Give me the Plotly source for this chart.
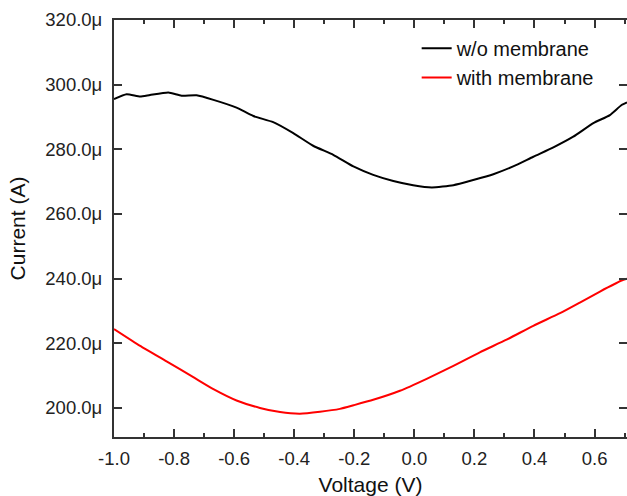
import plotly.graph_objects as go

# I-V sweep, current in microamps
voltage_wo = [-1.0, -0.958, -0.913, -0.88, -0.819, -0.775, -0.725, -0.669, -0.592, -0.536,
              -0.47, -0.403, -0.337, -0.27, -0.203, -0.137, -0.07, -0.004, 0.058, 0.13,
              0.196, 0.263, 0.329, 0.396, 0.463, 0.529, 0.596, 0.651, 0.69, 0.708]
current_wo = [295.5, 297.0, 296.3, 296.8, 297.6, 296.6, 296.7, 295.3, 292.9, 290.3,
              288.4, 285.0, 281.1, 278.3, 274.7, 272.1, 270.2, 268.9, 268.2, 268.9,
              270.5, 272.3, 274.7, 277.7, 280.6, 283.9, 288.1, 290.6, 293.7, 294.5]

voltage_with = [-1.0, -0.913, -0.825, -0.736, -0.669, -0.592, -0.514, -0.447, -0.381, -0.314,
                -0.248, -0.203, -0.137, -0.048, 0.041, 0.13, 0.218, 0.307, 0.396, 0.485,
                0.551, 0.618, 0.69, 0.708]
current_with = [224.4, 219.2, 214.4, 209.5, 205.8, 202.3, 200.0, 198.7, 198.2, 198.8,
                199.7, 200.8, 202.5, 205.3, 209.0, 213.0, 217.2, 221.1, 225.4, 229.3,
                232.6, 236.0, 239.4, 240.0]

x_ticks = [-1.0, -0.8, -0.6, -0.4, -0.2, 0.0, 0.2, 0.4, 0.6]
x_labels = ["-1.0", "-0.8", "-0.6", "-0.4", "-0.2", "0.0", "0.2", "0.4", "0.6"]
y_ticks = [200, 220, 240, 260, 280, 300, 320]
y_labels = ["200.0μ", "220.0μ", "240.0μ", "260.0μ", "280.0μ", "300.0μ", "320.0μ"]
x_range = [-1.0, 0.708]
y_range = [191.0, 320.0]

FONT = "Liberation Sans, Arial, sans-serif"
AXIS_COLOR = "#333333"

fig = go.Figure()
fig.add_trace(go.Scatter(x=voltage_wo, y=current_wo, mode="lines", name="w/o membrane",
                         line=dict(color="#000000", width=2, shape="spline", smoothing=0.5),
                         legend="legend"))
fig.add_trace(go.Scatter(x=voltage_with, y=current_with, mode="lines", name="with membrane",
                         line=dict(color="#ff0000", width=2, shape="spline", smoothing=0.5),
                         legend="legend2"))

fig.update_xaxes(
    showline=True, linecolor=AXIS_COLOR, linewidth=2, mirror="allticks",
    tickmode="array", tickvals=x_ticks, ticktext=x_labels,
    ticks="inside", ticklen=8, tickwidth=2, tickcolor=AXIS_COLOR,
    minor=dict(ticks="inside", ticklen=4, tickwidth=2, tickcolor=AXIS_COLOR,
               tickmode="linear", tick0=-1.0, dtick=0.1, showgrid=False),
    showgrid=False, zeroline=False,
    tickfont=dict(family=FONT, size=18.5, color="#222222"),
    ticklabelstandoff=4,
    range=x_range,
    title=dict(text="Voltage (V)", font=dict(family=FONT, size=21, color="#111111"), standoff=9),
)
fig.update_yaxes(
    showline=True, linecolor=AXIS_COLOR, linewidth=2, mirror="allticks",
    tickmode="array", tickvals=y_ticks, ticktext=y_labels,
    ticks="inside", ticklen=8, tickwidth=2, tickcolor=AXIS_COLOR,
    ticklabelstandoff=6,
    showgrid=False, zeroline=False,
    tickfont=dict(family=FONT, size=18.5, color="#222222"),
    range=y_range,
    title=dict(text="Current (A)", font=dict(family=FONT, size=21, color="#111111"), standoff=14),
)

legend_style = dict(font=dict(family=FONT, size=20, color="#111111"),
                    bgcolor="rgba(0,0,0,0)", xanchor="left", yanchor="middle")

fig.update_layout(
    template="none",
    width=627, height=496,
    margin=dict(l=114, r=0, t=20, b=59),
    paper_bgcolor="white", plot_bgcolor="white",
    showlegend=True,
    legend=dict(**legend_style, x=0.59, y=0.932),
    legend2=dict(**legend_style, x=0.59, y=0.862),
)

fig.write_html("out.html")
